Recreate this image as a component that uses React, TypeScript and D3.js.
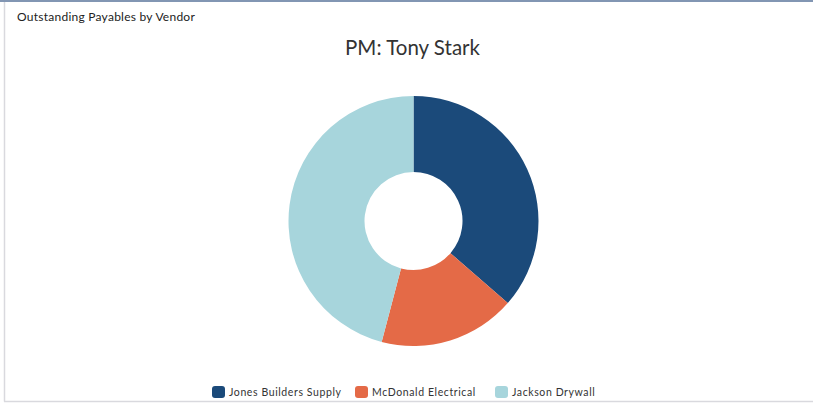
import React from "react";
import * as d3 from "d3";

const categories = ["Jones Builders Supply", "McDonald Electrical", "Jackson Drywall"];
const values = [36.4, 17.7, 45.9];
const colors = ["#1b4a7a", "#e46a47", "#a7d5dc"];
const chartTitle = "PM: Tony Stark";
const panelTitle = "Outstanding Payables by Vendor";

export default function App() {
  const W = 813, H = 414;
  const cx = 413.5, cy = 221;
  const outerR = 125, innerR = 49;
  const pie = d3.pie<number>().sort(null).value((d) => d)(values);
  const arc = d3.arc<d3.PieArcDatum<number>>().innerRadius(innerR).outerRadius(outerR);

  const legendX = d3.scaleOrdinal<string, number>().domain(categories).range([212, 355, 495]);

  return (
    <svg width={W} height={H} style={{ position: "absolute", left: 0, top: 0 }} fontFamily="Lato, 'Open Sans', sans-serif">
      <rect x={0} y={0} width={W} height={H} fill="#fff" />
      <rect x={0} y={0} width={W} height={2} fill="#8296b3" />
      <line x1={4.5} y1={2} x2={4.5} y2={401.5} stroke="#d9d9de" strokeWidth={1.5} />
      <line x1={4} y1={401.5} x2={W} y2={401.5} stroke="#d9d9de" strokeWidth={1.5} />
      <text x={17} y={21} fontSize={12} letterSpacing={0.25} fill="#222">{panelTitle}</text>
      <text x={412.5} y={55} fontSize={20.5} fill="#333" textAnchor="middle">{chartTitle}</text>
      <g transform={`translate(${cx},${cy})`}>
        {pie.map((p, i) => (
          <path key={categories[i]} d={arc(p) || ""} fill={colors[i]} />
        ))}
      </g>
      {categories.map((c, i) => (
        <g key={c} transform={`translate(${legendX(c)},386)`}>
          <rect x={0} y={0} width={13} height={12} rx={3} fill={colors[i]} />
          <text x={17} y={10} fontSize={10.5} letterSpacing={0.6} fill="#333">{c}</text>
        </g>
      ))}
    </svg>
  );
}
